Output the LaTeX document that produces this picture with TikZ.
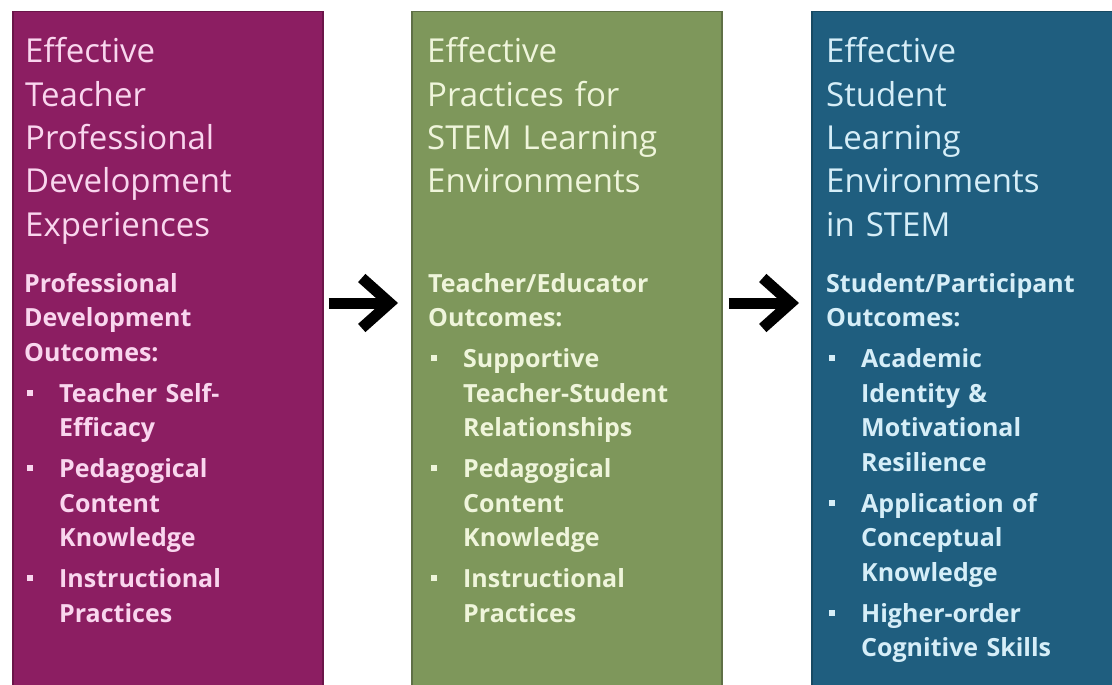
\documentclass[tikz,border=0pt]{standalone}
\usepackage{fontspec}
\setmainfont{Open Sans}
\usetikzlibrary{arrows.meta}
\definecolor{magfill}{HTML}{8C1E62}
\definecolor{magedge}{HTML}{6B1549}
\definecolor{magtext}{HTML}{F9D6EE}
\definecolor{grnfill}{HTML}{7E975B}
\definecolor{grnedge}{HTML}{5F7046}
\definecolor{grntext}{HTML}{EFF5DB}
\definecolor{blufill}{HTML}{1F5E7F}
\definecolor{bluedge}{HTML}{184A63}
\definecolor{blutext}{HTML}{D6EEF8}
\newcommand\titlefont{\fontsize{33bp}{43.3bp}\selectfont}
\newcommand\outfont{\fontsize{25bp}{34.5bp}\selectfont\bfseries}
\newcommand\bitem[1]{\par\vspace{6.5bp}\hangindent=35bp\hangafter=1\noindent\makebox[35bp][l]{\hspace{3bp}\raisebox{0.25em}{\rule{6bp}{6bp}}}{\let\\\newline #1}\par}
\begin{document}
\begin{tikzpicture}[x=1bp,y=-1bp,
  panel/.style={rectangle, anchor=north west, inner sep=0, minimum width=310bp, minimum height=674bp, line width=1.5bp},
  titletext/.style={anchor=base west, inner sep=0, text width=295bp, align=left, font=\titlefont},
  outtext/.style={anchor=base west, inner sep=0, text width=285bp, align=left, font=\outfont},
  flow/.style={draw=black, line width=11bp, -{Straight Barb[length=28bp,width=50bp,line width=11bp]}}]
\useasboundingbox (0,0) rectangle (1112,685);
\fill[white] (0,0) rectangle (1112,685);
% panels
\node[panel, fill=magfill, draw=magedge] (b1) at (12,11) {};
\node[panel, fill=grnfill, draw=grnedge] (b2) at (411,11) {};
\node[panel, fill=blufill, draw=bluedge] (b3) at (811,11) {};
% titles
\node[titletext, text=magtext] (t1) at (25,63) {Effective\\Teacher\\Professional\\Development\\Experiences};
\node[titletext, text=grntext] (t2) at (427,63) {Effective\\Practices for\\STEM Learning\\Environments};
\node[titletext, text=blutext] (t3) at (826,63) {Effective\\Student\\Learning\\Environments\\in STEM};
% outcomes
\node[outtext, text=magtext] (o1) at (24,292) {Professional\\Development\\Outcomes:\bitem{Teacher Self-\\Efficacy}\bitem{Pedagogical\\Content\\Knowledge}\bitem{Instructional\\Practices}};
\node[outtext, text=grntext] (o2) at (428,292) {Teacher/Educator\\Outcomes:\bitem{Supportive\\Teacher-Student\\Relationships}\bitem{Pedagogical\\Content\\Knowledge}\bitem{Instructional\\Practices}};
\node[outtext, text=blutext] (o3) at (826,292) {Student/Participant\\Outcomes:\bitem{Academic\\Identity \&\\Motivational\\Resilience}\bitem{Application of\\Conceptual\\Knowledge}\bitem{Higher-order\\Cognitive Skills}};
% arrows
\coordinate (ay) at (0,303);
\draw[flow, shorten <=5bp, shorten >=13bp] (b1.east |- ay) -- (b2.west |- ay);
\draw[flow, shorten <=6bp, shorten >=12bp] (b2.east |- ay) -- (b3.west |- ay);
\end{tikzpicture}
\end{document}
